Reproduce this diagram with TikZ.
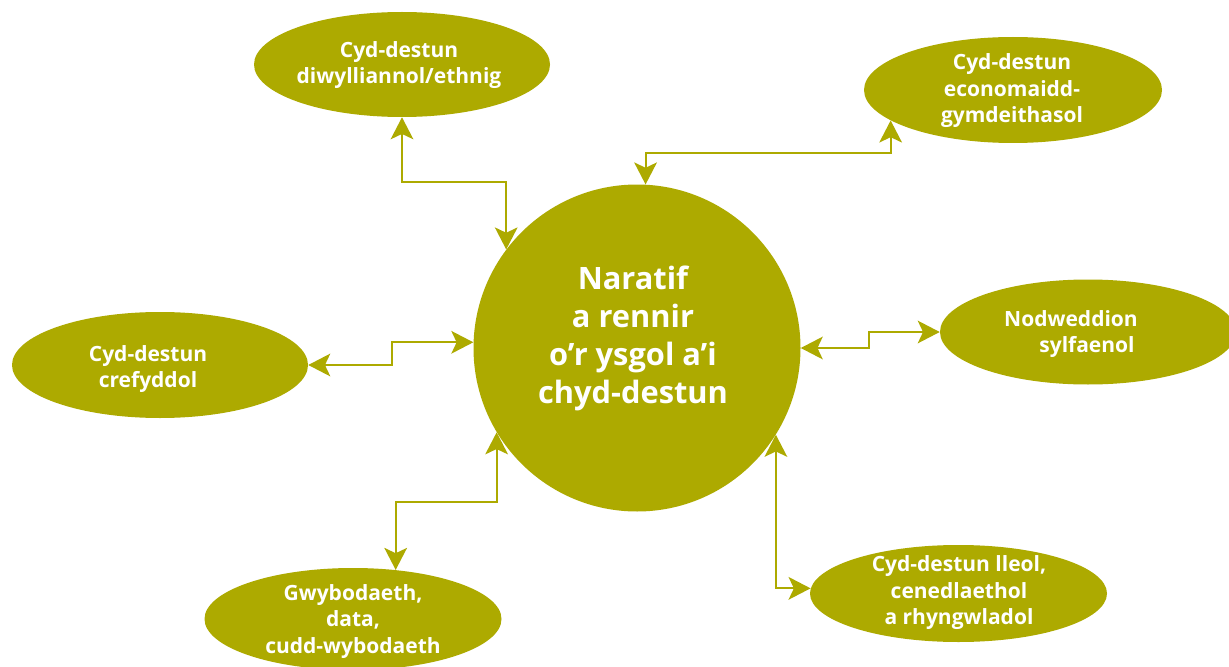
\documentclass[tikz,border=0pt]{standalone}
\usepackage{fontspec}
\setmainfont{Open Sans}
\usetikzlibrary{shapes.geometric,arrows.meta}
\definecolor{olivegreen}{RGB}{173,170,0}
\begin{document}
\begin{tikzpicture}[x=0.75pt,y=-0.75pt,
  bubble/.style={ellipse,fill=olivegreen,inner sep=0pt,minimum width=222pt,minimum height=78.75pt},
  btext/.style={text=white,font=\bfseries\fontsize{15.75}{19.9}\selectfont,align=center,inner sep=0pt},
  ctext/.style={text=white,font=\bfseries\fontsize{23.1}{28.5}\selectfont,align=center,inner sep=0pt},
  conn/.style={draw=olivegreen,line width=1.5pt,
    arrows={Stealth[length=16.5pt,width=17pt,inset=4pt]-Stealth[length=16.5pt,width=17pt,inset=4pt]}}
]
\clip (0,0) rectangle (1229,667);
\fill[white] (0,0) rectangle (1229,667);

% central circle
\node[circle,fill=olivegreen,inner sep=0pt,minimum size=245.25pt] (c) at (637,348) {};
\node[ctext] (ct) at (633,338) {Naratif\\a rennir\\o’r ysgol a’i\\chyd-destun};

% surrounding ellipses
\node[bubble] (e1) at (402,64.5) {};
\node[btext] (t1) at (399,65) {Cyd-destun\\diwylliannol/ethnig};

\node[bubble,minimum width=223.5pt,minimum height=79.5pt] (e2) at (1013,90) {};
\node[btext] (t2) at (1012,91) {Cyd-destun\\economaidd-\\gymdeithasol};

\node[bubble,minimum height=79.5pt] (e3) at (160,365) {};
\node[btext] (t3) at (148,369) {Cyd-destun\\crefyddol};

\node[bubble] (e4) at (1088,332) {};
\node[btext] (t4) at (1071,334) {Nodweddion\\\hspace*{24pt}sylfaenol};

\node[bubble,minimum width=222.75pt,minimum height=76.5pt] (e5) at (353,619) {};
\node[btext] (t5) at (353,621.5) {Gwybodaeth,\\data,\\cudd-wybodaeth};

\node[bubble,minimum width=222.75pt,minimum height=72.75pt] (e6) at (958.5,593.5) {};
\node[btext] (t6) at (959,593) {Cyd-destun lleol,\\cenedlaethol\\a rhyngwladol};

% connectors
\draw[conn] (e1.south) -- ++(0,65) -| (c.143);
\draw[conn] (c.87) -- ++(0,-31) -| (e2.194);
\draw[conn] (e3.east) -- ++(84,0) |- (c.178.6);
\draw[conn] (c.east) -- ++(68.5,0) |- (e4.west);
\draw[conn] (c.211) -- ++(0,70) -| (e5.49.5);
\draw[conn] (c.328) |- (e6.178);
\end{tikzpicture}
\end{document}
